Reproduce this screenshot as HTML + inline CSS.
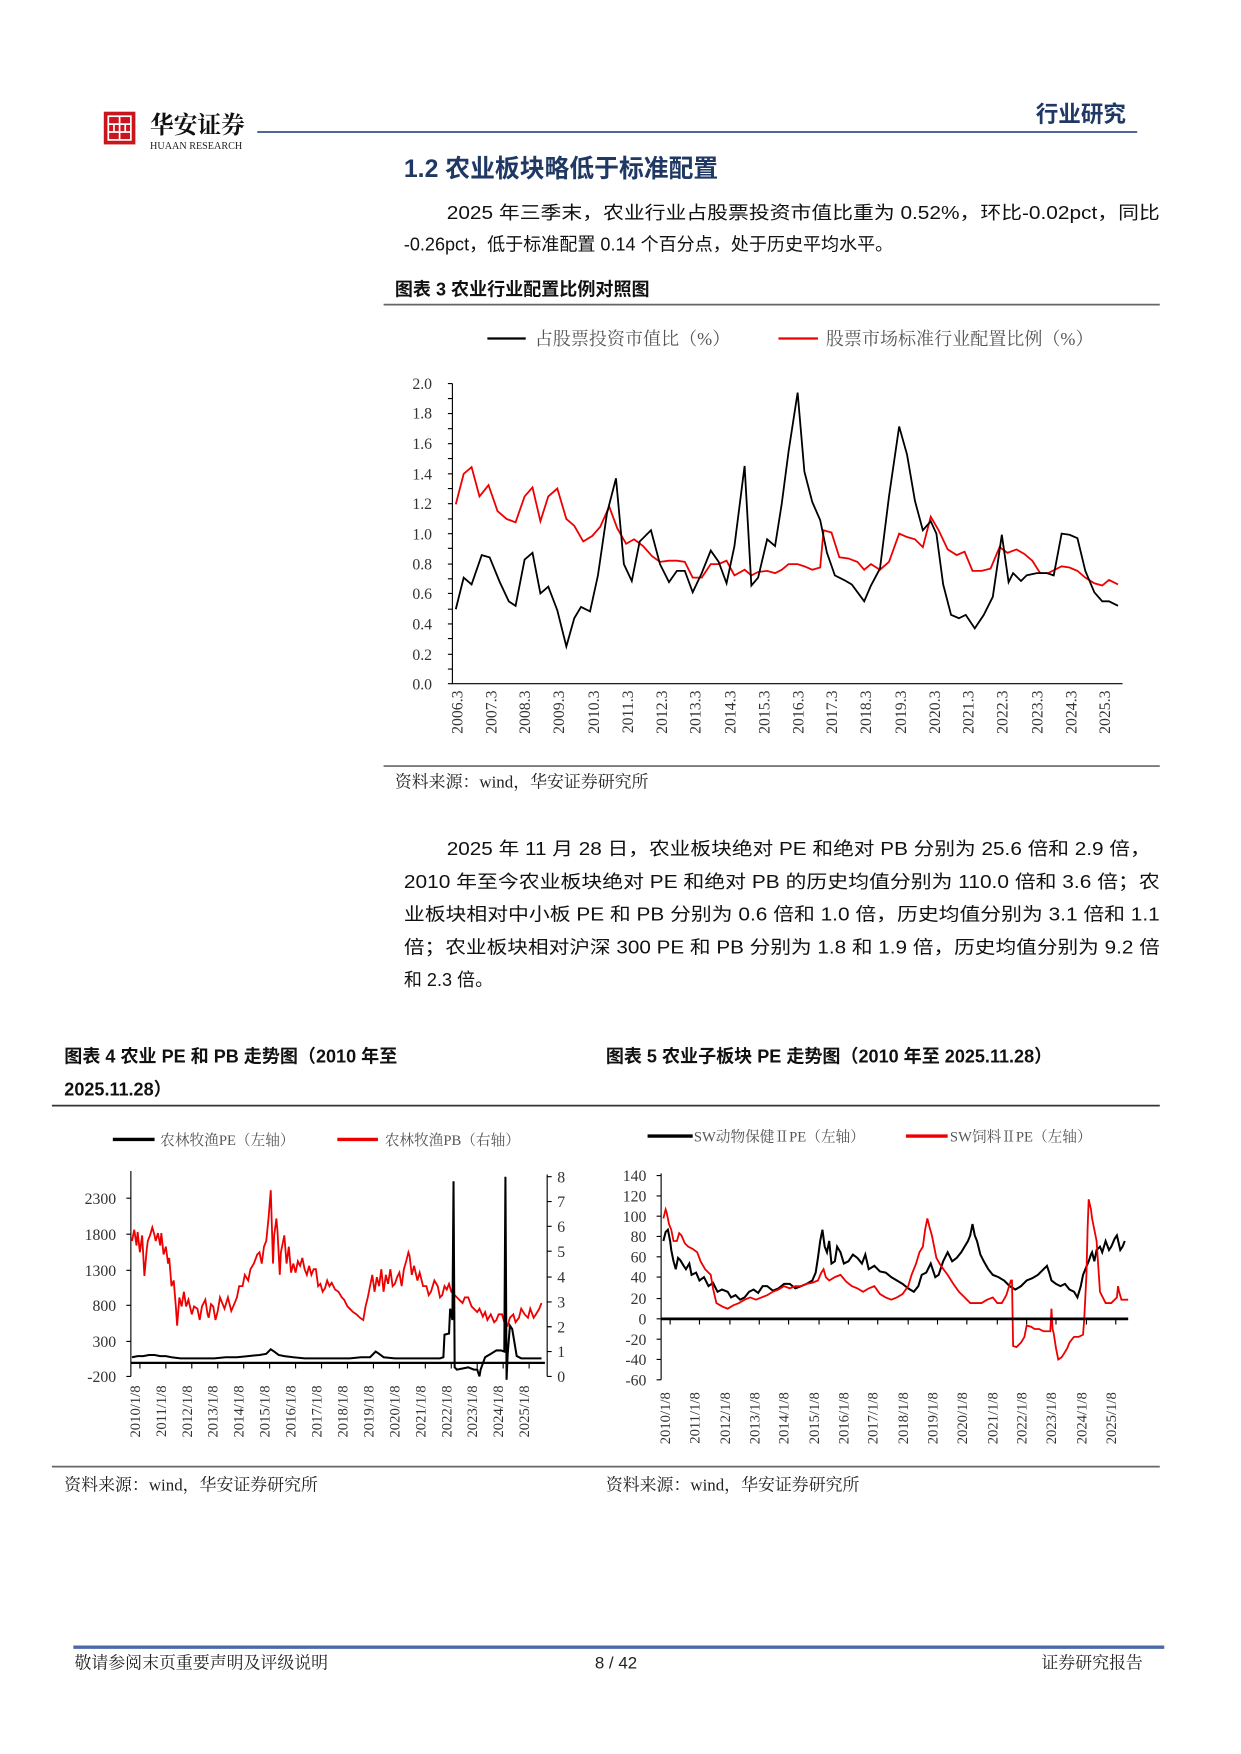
<!DOCTYPE html>
<html><head><meta charset="utf-8"><style>
html,body{margin:0;padding:0;background:#fff}
svg{display:block}
text{font-family:"Liberation Sans","Noto Sans CJK SC",sans-serif}
.s,.s text,text.s{font-family:"Liberation Serif","Noto Serif CJK SC",serif}
</style></head><body>
<svg width="1241" height="1754" viewBox="0 0 1100 1554.7" xmlns="http://www.w3.org/2000/svg">
<!-- header -->
<rect x="92" y="99" width="28" height="29" fill="#c9151e"/>
<rect x="96" y="103" width="20" height="21" fill="none" stroke="#fff" stroke-width="1.5"/>
<path d="M106 103v21M96 110h20M96 117h20M101 110v7M111 110v7" stroke="#fff" stroke-width="1.5" fill="none"/>
<text x="133" y="118" font-size="21" font-weight="bold" class="s" fill="#111">华安证券</text>
<text x="133" y="132" font-size="9" class="s" fill="#222">HUAAN RESEARCH</text>
<line x1="228" y1="117" x2="1008" y2="117" stroke="#3a5384" stroke-width="1.5"/>
<text x="998" y="108" font-size="20" text-anchor="end" fill="#1f3864" font-weight="bold">行业研究</text>
<text x="358" y="157" font-size="22" font-weight="bold" fill="#1f3864">1.2 农业板块略低于标准配置</text>
<g font-size="16" fill="#111">
<text x="396" y="194" textLength="632" lengthAdjust="spacingAndGlyphs">2025 年三季末，农业行业占股票投资市值比重为 0.52%，环比-0.02pct，同比</text>
<text x="358" y="222">-0.26pct，低于标准配置 0.14 个百分点，处于历史平均水平。</text>
</g>
<text x="350" y="262" font-size="16" font-weight="bold" fill="#111">图表 3 农业行业配置比例对照图</text>
<line x1="340" y1="270" x2="1028" y2="270" stroke="#666" stroke-width="1.5"/>
<!-- chart 3 legend -->
<line x1="432" y1="300" x2="466" y2="300" stroke="#000" stroke-width="2"/>
<text x="474" y="306" font-size="16" fill="#555" class="s">占股票投资市值比（%）</text>
<line x1="690" y1="300" x2="725" y2="300" stroke="#e00" stroke-width="2"/>
<text x="732" y="306" font-size="16" fill="#555" class="s">股票市场标准行业配置比例（%）</text>
<!-- chart 3 axes -->
<g stroke="#000" stroke-width="1" fill="none">
<path d="M401 340V606H995"/>
<path d="M397 340h4M397 353.3h4M397 366.6h4M397 380h4M397 393.3h4M397 406.5h4M397 420h4M397 433h4M397 446.5h4M397 460h4M397 473h4M397 486h4M397 500h4M397 513h4M397 526h4M397 540h4M397 553h4M397 566h4M397 580h4M397 593h4M397 606h4"/>
</g>
<g font-size="14" fill="#333" text-anchor="end" class="s">
<text x="383" y="345">2.0</text><text x="383" y="371">1.8</text><text x="383" y="398">1.6</text><text x="383" y="425">1.4</text><text x="383" y="451">1.2</text><text x="383" y="478">1.0</text><text x="383" y="505">0.8</text><text x="383" y="531">0.6</text><text x="383" y="558">0.4</text><text x="383" y="585">0.2</text><text x="383" y="611">0.0</text>
</g>
<g font-size="14" fill="#333" class="s" text-anchor="end">
<text transform="translate(410,612) rotate(-90)">2006.3</text><text transform="translate(440,612) rotate(-90)">2007.3</text><text transform="translate(470,612) rotate(-90)">2008.3</text><text transform="translate(500,612) rotate(-90)">2009.3</text><text transform="translate(531,612) rotate(-90)">2010.3</text><text transform="translate(561,612) rotate(-90)">2011.3</text><text transform="translate(591,612) rotate(-90)">2012.3</text><text transform="translate(621,612) rotate(-90)">2013.3</text><text transform="translate(652,612) rotate(-90)">2014.3</text><text transform="translate(682,612) rotate(-90)">2015.3</text><text transform="translate(712,612) rotate(-90)">2016.3</text><text transform="translate(742,612) rotate(-90)">2017.3</text><text transform="translate(772,612) rotate(-90)">2018.3</text><text transform="translate(803,612) rotate(-90)">2019.3</text><text transform="translate(833,612) rotate(-90)">2020.3</text><text transform="translate(863,612) rotate(-90)">2021.3</text><text transform="translate(893,612) rotate(-90)">2022.3</text><text transform="translate(924,612) rotate(-90)">2023.3</text><text transform="translate(954,612) rotate(-90)">2024.3</text><text transform="translate(984,612) rotate(-90)">2025.3</text>
</g>
<polyline fill="none" stroke="#e00" stroke-width="1.6" points="404,447 411,420 418,414 425,440 433,430 441,453 449,460 457,463 465,440 472,432 479,462 486,440 494,433 502,460 509,466 517,480 525,475 532,467 540,449 547,468 555,482 562,478 570,484 578,493 585,498 593,497 600,497 607,498 614,512 622,512 630,500 637,500 644,497 651,510 660,505 666,510 672,507 680,506 687,508 693,505 699,500 707,500 713,502 720,505 727,503 730,470 737,472 744,494 752,495 760,498 766,505 772,500 780,505 788,498 797,473 804,476 811,478 818,485 825,458 832,470 840,487 848,492 855,489 862,506 870,506 878,504 886,485 893,490 901,487 908,491 915,497 922,508 929,508 935,505 941,502 948,503 955,506 962,512 970,517 977,519 983,514 991,518"/>
<polyline fill="none" stroke="#000" stroke-width="1.6" points="404,540 411,512 418,518 427,492 434,494 443,516 451,533 457,537 465,496 472,490 479,526 486,520 494,541 502,573 509,548 515,538 523,542 530,510 538,455 546,424 553,500 560,515 567,480 577,470 585,500 593,516 600,506 607,506 614,525 622,508 630,488 637,498 644,517 651,484 660,413 666,519 672,512 680,478 687,484 693,446 699,400 707,348 713,418 720,445 727,461 733,490 740,510 748,514 755,518 766,533 772,519 780,504 788,440 797,378 804,403 811,444 818,470 825,462 830,473 836,518 843,545 850,548 856,545 864,557 872,545 880,529 888,474 894,516 898,508 905,515 910,510 919,508 928,508 934,510 941,473 948,474 955,477 962,506 970,525 977,533 983,533 991,537"/>
<line x1="340" y1="679" x2="1028" y2="679" stroke="#666" stroke-width="1.5"/>
<text x="350" y="698" font-size="15" fill="#222" class="s">资料来源：wind，华安证券研究所</text>
<!-- paragraph 2 -->
<g font-size="16" fill="#111">
<text x="396" y="758" textLength="624" lengthAdjust="spacingAndGlyphs">2025 年 11 月 28 日，农业板块绝对 PE 和绝对 PB 分别为 25.6 倍和 2.9 倍，</text>
<text x="358" y="787" textLength="670" lengthAdjust="spacingAndGlyphs">2010 年至今农业板块绝对 PE 和绝对 PB 的历史均值分别为 110.0 倍和 3.6 倍；农</text>
<text x="358" y="816" textLength="670" lengthAdjust="spacingAndGlyphs">业板块相对中小板 PE 和 PB 分别为 0.6 倍和 1.0 倍，历史均值分别为 3.1 倍和 1.1</text>
<text x="358" y="845" textLength="670" lengthAdjust="spacingAndGlyphs">倍；农业板块相对沪深 300 PE 和 PB 分别为 1.8 和 1.9 倍，历史均值分别为 9.2 倍</text>
<text x="358" y="874">和 2.3 倍。</text>
</g>
<g font-size="16" font-weight="bold" fill="#111">
<text x="57" y="942">图表 4 农业 PE 和 PB 走势图（2010 年至</text>
<text x="57" y="971">2025.11.28）</text>
<text x="537" y="942">图表 5 农业子板块 PE 走势图（2010 年至 2025.11.28）</text>
</g>
<line x1="46" y1="980" x2="1028" y2="980" stroke="#333" stroke-width="1.5"/>
<!-- chart 4 -->
<line x1="100" y1="1010" x2="137" y2="1010" stroke="#000" stroke-width="3"/>
<text x="142" y="1015" font-size="13" fill="#555" class="s">农林牧渔PE（左轴）</text>
<line x1="299" y1="1010" x2="335" y2="1010" stroke="#e00" stroke-width="3"/>
<text x="341" y="1015" font-size="13" fill="#555" class="s">农林牧渔PB（右轴）</text>
<g stroke="#000" stroke-width="1" fill="none">
<path d="M116 1038V1220"/><path d="M112 1062h4M112 1094h4M112 1126h4M112 1157h4M112 1189h4M112 1220h4"/>
<path d="M485 1041V1220"/><path d="M485 1043h4M485 1065h4M485 1087h4M485 1109h4M485 1132h4M485 1154h4M485 1176h4M485 1198h4M485 1220h4"/>
</g>
<g font-size="14" fill="#333" class="s" text-anchor="end">
<text x="103" y="1067">2300</text><text x="103" y="1099">1800</text><text x="103" y="1131">1300</text><text x="103" y="1162">800</text><text x="103" y="1194">300</text><text x="103" y="1225">-200</text>
</g>
<g font-size="14" fill="#333" class="s">
<text x="494" y="1048">8</text><text x="494" y="1070">7</text><text x="494" y="1092">6</text><text x="494" y="1114">5</text><text x="494" y="1137">4</text><text x="494" y="1159">3</text><text x="494" y="1181">2</text><text x="494" y="1203">1</text><text x="494" y="1225">0</text>
</g>
<g font-size="13" fill="#333" class="s" text-anchor="end">
<text transform="translate(124,1228) rotate(-90)">2010/1/8</text><text transform="translate(147,1228) rotate(-90)">2011/1/8</text><text transform="translate(170,1228) rotate(-90)">2012/1/8</text><text transform="translate(193,1228) rotate(-90)">2013/1/8</text><text transform="translate(216,1228) rotate(-90)">2014/1/8</text><text transform="translate(239,1228) rotate(-90)">2015/1/8</text><text transform="translate(262,1228) rotate(-90)">2016/1/8</text><text transform="translate(285,1228) rotate(-90)">2017/1/8</text><text transform="translate(308,1228) rotate(-90)">2018/1/8</text><text transform="translate(331,1228) rotate(-90)">2019/1/8</text><text transform="translate(354,1228) rotate(-90)">2020/1/8</text><text transform="translate(377,1228) rotate(-90)">2021/1/8</text><text transform="translate(400,1228) rotate(-90)">2022/1/8</text><text transform="translate(423,1228) rotate(-90)">2023/1/8</text><text transform="translate(446,1228) rotate(-90)">2024/1/8</text><text transform="translate(469,1228) rotate(-90)">2025/1/8</text>
</g>
<polyline fill="none" stroke="#e00" stroke-width="1.6" points="117,1100 119,1090 121,1104 122,1092 124,1110 126,1095 128,1131 130,1108 131,1100 133,1095 135,1088 137,1095 138,1100 140,1093 142,1104 143,1093 145,1112 147,1105 149,1120 150,1115 152,1140 154,1135 156,1160 157,1175 159,1150 161,1158 163,1145 165,1158 167,1152 170,1165 172,1158 175,1160 177,1170 179,1158 182,1152 184,1165 185,1168 187,1156 189,1158 191,1170 193,1162 195,1150 197,1155 199,1160 202,1150 205,1162 208,1155 210,1150 212,1140 215,1140 217,1130 220,1135 222,1125 225,1120 228,1112 230,1110 232,1120 234,1105 236,1100 238,1080 240,1055 242,1120 243,1095 245,1080 246,1092 248,1130 249,1110 251,1100 252,1095 254,1120 256,1105 258,1128 260,1120 262,1128 264,1118 266,1122 268,1115 270,1125 272,1130 274,1122 276,1130 278,1125 280,1125 282,1140 284,1138 286,1145 288,1142 290,1135 292,1140 294,1137 297,1143 300,1145 303,1150 305,1152 308,1158 310,1160 313,1163 316,1165 319,1168 322,1170 324,1158 326,1150 328,1140 330,1130 332,1145 334,1132 336,1140 338,1125 340,1145 342,1130 344,1138 346,1125 348,1140 350,1138 352,1132 354,1128 356,1140 358,1125 360,1118 362,1110 363,1113 365,1130 367,1122 370,1135 372,1128 375,1140 378,1140 380,1148 382,1145 385,1135 388,1140 390,1150 392,1148 394,1140 396,1143 398,1138 400,1145 403,1148 405,1150 408,1153 410,1155 412,1150 415,1150 418,1158 420,1160 423,1163 425,1160 428,1167 430,1163 432,1170 435,1165 438,1172 440,1170 442,1165 445,1165 447,1172 450,1175 452,1168 455,1165 457,1172 460,1168 462,1160 465,1165 468,1168 470,1160 473,1168 475,1165 478,1160 480,1155"/>
<polyline fill="none" stroke="#000" stroke-width="1.8" points="117,1203 122,1202 127,1202 132,1201 137,1201 142,1202 147,1202 152,1203 160,1204 170,1204 180,1204 190,1204 200,1203 210,1203 220,1202 230,1201 236,1200 240,1196 243,1198 247,1201 252,1202 260,1203 270,1204 280,1204 290,1204 300,1204 310,1204 320,1203 328,1203 333,1198 336,1200 340,1203 350,1204 360,1204 370,1204 380,1204 390,1204 393,1203 394,1183 398,1182 399,1160 401,1170 402,1047 403,1212 405,1214 410,1213 415,1212 420,1214 423,1214 425,1220 426,1214 430,1203 435,1200 440,1197 444,1197 447,1198 448,1043 449,1223 450,1200 452,1175 454,1178 456,1190 458,1202 462,1204 470,1204 480,1204"/>
<line x1="116" y1="1208" x2="483" y2="1208" stroke="#000" stroke-width="2"/>
<g stroke="#000"><path d="M124 1208v5M147 1208v5M170 1208v5M193 1208v5M216 1208v5M239 1208v5M262 1208v5M285 1208v5M308 1208v5M331 1208v5M354 1208v5M377 1208v5M400 1208v5M423 1208v5M446 1208v5M469 1208v5"/></g>
<!-- chart 5 -->
<line x1="574" y1="1007" x2="614" y2="1007" stroke="#000" stroke-width="3"/>
<text x="615" y="1012" font-size="13" fill="#555" class="s">SW动物保健ⅡPE（左轴）</text>
<line x1="803" y1="1007" x2="840" y2="1007" stroke="#e00" stroke-width="3"/>
<text x="842" y="1012" font-size="13" fill="#555" class="s">SW饲料ⅡPE（左轴）</text>
<g stroke="#000" stroke-width="1" fill="none">
<path d="M586 1040V1223"/><path d="M582 1042h4M582 1060h4M582 1078h4M582 1096h4M582 1114h4M582 1132h4M582 1151h4M582 1169h4M582 1187h4M582 1205h4M582 1223h4"/>
</g>
<g font-size="14" fill="#333" class="s" text-anchor="end">
<text x="573" y="1047">140</text><text x="573" y="1065">120</text><text x="573" y="1083">100</text><text x="573" y="1101">80</text><text x="573" y="1119">60</text><text x="573" y="1137">40</text><text x="573" y="1156">20</text><text x="573" y="1174">0</text><text x="573" y="1192">-20</text><text x="573" y="1210">-40</text><text x="573" y="1228">-60</text>
</g>
<g font-size="13" fill="#333" class="s" text-anchor="end">
<text transform="translate(594,1234) rotate(-90)">2010/1/8</text><text transform="translate(620,1234) rotate(-90)">2011/1/8</text><text transform="translate(647,1234) rotate(-90)">2012/1/8</text><text transform="translate(673,1234) rotate(-90)">2013/1/8</text><text transform="translate(699,1234) rotate(-90)">2014/1/8</text><text transform="translate(726,1234) rotate(-90)">2015/1/8</text><text transform="translate(752,1234) rotate(-90)">2016/1/8</text><text transform="translate(778,1234) rotate(-90)">2017/1/8</text><text transform="translate(805,1234) rotate(-90)">2018/1/8</text><text transform="translate(831,1234) rotate(-90)">2019/1/8</text><text transform="translate(857,1234) rotate(-90)">2020/1/8</text><text transform="translate(884,1234) rotate(-90)">2021/1/8</text><text transform="translate(910,1234) rotate(-90)">2022/1/8</text><text transform="translate(936,1234) rotate(-90)">2023/1/8</text><text transform="translate(963,1234) rotate(-90)">2024/1/8</text><text transform="translate(989,1234) rotate(-90)">2025/1/8</text>
</g>
<polyline fill="none" stroke="#000" stroke-width="1.8" points="588,1100 590,1092 592,1090 594,1100 595,1108 597,1118 599,1125 601,1115 603,1117 606,1122 608,1125 611,1120 613,1130 617,1128 620,1135 624,1132 628,1140 632,1137 636,1145 640,1143 645,1145 648,1150 652,1148 656,1152 660,1150 664,1145 668,1143 672,1146 676,1140 680,1140 685,1144 690,1142 695,1138 700,1138 705,1142 710,1140 715,1138 720,1135 723,1128 725,1115 727,1100 729,1090 731,1105 733,1110 735,1100 737,1120 740,1118 742,1105 745,1110 748,1120 752,1118 756,1112 760,1115 764,1120 767,1112 770,1125 775,1122 780,1127 785,1128 790,1132 795,1135 800,1138 805,1142 810,1145 814,1140 817,1130 821,1128 825,1120 829,1132 832,1130 836,1118 840,1110 844,1118 848,1115 852,1110 855,1105 858,1100 860,1095 862,1085 864,1095 866,1100 869,1112 872,1118 876,1125 880,1130 885,1132 890,1135 895,1140 900,1143 905,1140 910,1135 915,1133 920,1130 924,1126 928,1122 930,1128 932,1135 936,1138 940,1140 944,1138 948,1143 952,1145 955,1150 958,1140 960,1130 962,1125 965,1118 967,1112 968,1110 970,1118 972,1108 975,1105 977,1110 980,1100 983,1108 985,1105 988,1098 990,1095 993,1108 995,1105 997,1100"/>
<polyline fill="none" stroke="#e00" stroke-width="1.6" points="588,1080 590,1072 591,1075 593,1085 595,1090 597,1100 600,1100 602,1093 604,1095 607,1102 610,1105 614,1107 618,1110 621,1118 625,1125 628,1128 630,1130 632,1142 635,1155 640,1158 645,1160 650,1157 655,1155 660,1152 665,1150 670,1152 675,1150 680,1148 685,1145 690,1143 695,1140 700,1142 705,1140 710,1140 715,1138 720,1137 725,1135 728,1128 730,1125 732,1132 735,1135 740,1132 745,1130 750,1136 755,1140 760,1142 765,1145 770,1142 775,1140 780,1147 785,1150 790,1152 795,1150 800,1147 805,1140 808,1130 812,1120 815,1110 818,1105 820,1090 822,1080 824,1088 826,1095 828,1105 830,1115 834,1122 840,1130 845,1138 850,1145 855,1150 860,1155 865,1155 870,1155 875,1152 880,1150 884,1155 888,1155 892,1148 896,1135 897,1135 898,1193 901,1194 905,1190 908,1185 910,1175 914,1176 917,1178 921,1178 925,1180 929,1180 931,1180 932,1160 933,1178 934,1182 936,1195 938,1205 941,1203 943,1200 946,1195 948,1190 951,1186 952,1185 956,1185 960,1183 961,1170 963,1130 964,1090 965,1063 967,1072 968,1080 970,1090 972,1100 974,1130 975,1145 980,1155 985,1155 988,1152 990,1150 991,1140 992,1145 994,1152 998,1152 1000,1152"/>
<line x1="586" y1="1169" x2="1000" y2="1169" stroke="#000" stroke-width="2.5"/>
<g stroke="#000"><path d="M594 1169v5M620 1169v5M647 1169v5M673 1169v5M699 1169v5M726 1169v5M752 1169v5M778 1169v5M805 1169v5M831 1169v5M857 1169v5M884 1169v5M910 1169v5M936 1169v5M963 1169v5M989 1169v5"/></g>
<line x1="46" y1="1300" x2="1028" y2="1300" stroke="#666" stroke-width="1.5"/>
<text x="57" y="1321" font-size="15" fill="#222" class="s">资料来源：wind，华安证券研究所</text>
<text x="537" y="1321" font-size="15" fill="#222" class="s">资料来源：wind，华安证券研究所</text>
<!-- footer -->
<line x1="65" y1="1460" x2="1032" y2="1460" stroke="#4a6aa8" stroke-width="3"/>
<text x="66" y="1479" font-size="15" fill="#222" class="s">敬请参阅末页重要声明及评级说明</text>
<text x="546" y="1479" font-size="15" fill="#222" text-anchor="middle">8 / 42</text>
<text x="1013" y="1479" font-size="15" fill="#222" text-anchor="end" class="s">证券研究报告</text>
</svg>
</body></html>
